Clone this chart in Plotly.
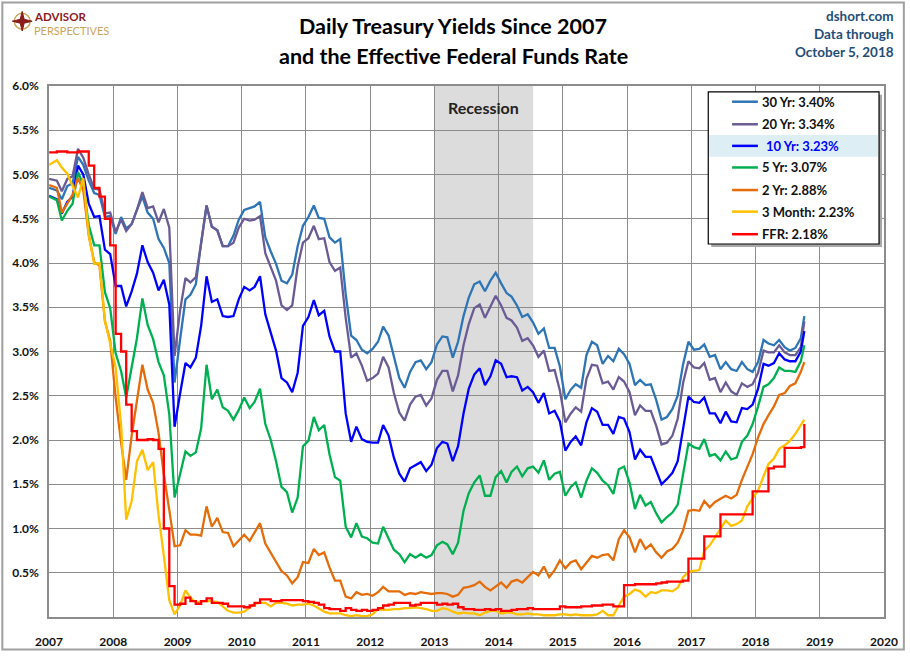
import plotly.graph_objects as go

# ---------------- data (monthly readings, Jan 2007 .. Oct 5 2018) ----------------
months = [f"{y}-{m:02d}-15" for y in range(2007, 2019) for m in range(1, 13)][:142]
months[0] = "2007-01-02"
months[-1] = "2018-10-05"

y30 = [4.85, 4.82, 4.72, 4.87, 4.90, 5.20, 5.11, 4.93, 4.79, 4.77, 4.52, 4.53,
       4.33, 4.52, 4.39, 4.44, 4.60, 4.75, 4.57, 4.50, 4.27, 4.17, 4.00, 2.65,
       3.13, 3.59, 3.64, 3.76, 4.23, 4.65, 4.41, 4.37, 4.19, 4.19, 4.31, 4.49,
       4.60, 4.62, 4.64, 4.69, 4.29, 4.13, 3.99, 3.80, 3.77, 3.87, 4.19, 4.42,
       4.52, 4.65, 4.51, 4.50, 4.29, 4.23, 4.27, 3.65, 3.18, 3.13, 3.02, 2.98,
       3.03, 3.11, 3.28, 3.18, 2.93, 2.70, 2.59, 2.77, 2.88, 2.90, 2.80, 2.88,
       3.08, 3.17, 3.16, 2.93, 3.11, 3.40, 3.61, 3.76, 3.79, 3.68, 3.80, 3.89,
       3.77, 3.66, 3.62, 3.52, 3.39, 3.42, 3.33, 3.20, 3.26, 3.04, 3.04, 2.83,
       2.46, 2.57, 2.63, 2.59, 2.96, 3.11, 3.07, 2.86, 2.95, 2.89, 3.03, 2.97,
       2.86, 2.62, 2.68, 2.62, 2.63, 2.45, 2.23, 2.26, 2.35, 2.50, 2.86, 3.11,
       3.02, 3.03, 3.08, 2.94, 2.96, 2.80, 2.88, 2.80, 2.78, 2.88, 2.80, 2.77,
       2.88, 3.13, 3.09, 3.07, 3.13, 3.05, 3.01, 3.04, 3.15, 3.40]

y20 = [4.95, 4.93, 4.81, 4.95, 4.98, 5.29, 5.19, 5.00, 4.84, 4.83, 4.56, 4.57,
       4.35, 4.49, 4.36, 4.44, 4.60, 4.80, 4.62, 4.64, 4.46, 4.61, 4.40, 2.95,
       3.46, 3.83, 3.78, 3.84, 4.22, 4.65, 4.41, 4.37, 4.19, 4.19, 4.23, 4.40,
       4.50, 4.48, 4.49, 4.53, 4.11, 3.95, 3.80, 3.52, 3.47, 3.52, 3.96, 4.23,
       4.28, 4.42, 4.27, 4.28, 4.01, 3.91, 3.95, 3.38, 2.93, 2.98, 2.84, 2.67,
       2.70, 2.75, 2.94, 2.82, 2.53, 2.31, 2.22, 2.40, 2.49, 2.51, 2.39, 2.47,
       2.68, 2.78, 2.78, 2.55, 2.73, 3.07, 3.31, 3.49, 3.53, 3.38, 3.50, 3.63,
       3.52, 3.38, 3.35, 3.27, 3.12, 3.15, 3.07, 2.94, 3.01, 2.78, 2.79, 2.56,
       2.20, 2.30, 2.37, 2.32, 2.69, 2.85, 2.84, 2.64, 2.66, 2.57, 2.71, 2.66,
       2.54, 2.28, 2.39, 2.33, 2.33, 2.16, 1.95, 1.97, 2.05, 2.24, 2.65, 2.89,
       2.82, 2.81, 2.87, 2.68, 2.70, 2.54, 2.65, 2.55, 2.51, 2.64, 2.60, 2.63,
       2.76, 3.01, 2.99, 2.99, 3.07, 2.99, 2.96, 2.96, 3.05, 3.34]

y10 = [4.76, 4.72, 4.56, 4.69, 4.75, 5.10, 5.00, 4.67, 4.52, 4.53, 4.15, 4.10,
       3.74, 3.74, 3.51, 3.68, 3.88, 4.20, 4.01, 3.89, 3.69, 3.81, 3.53, 2.15,
       2.52, 2.87, 2.82, 2.93, 3.29, 3.85, 3.56, 3.59, 3.40, 3.39, 3.40, 3.59,
       3.73, 3.69, 3.73, 3.85, 3.42, 3.20, 3.01, 2.70, 2.65, 2.54, 2.76, 3.29,
       3.39, 3.58, 3.41, 3.46, 3.17, 3.00, 3.00, 2.30, 1.98, 2.15, 2.01, 1.98,
       1.97, 1.97, 2.17, 2.05, 1.80, 1.62, 1.53, 1.68, 1.72, 1.75, 1.65, 1.72,
       1.91, 1.98, 1.96, 1.76, 1.93, 2.30, 2.58, 2.74, 2.81, 2.62, 2.72, 2.90,
       2.86, 2.71, 2.72, 2.71, 2.56, 2.60, 2.54, 2.42, 2.53, 2.30, 2.33, 2.21,
       1.88, 1.98, 2.04, 1.94, 2.20, 2.36, 2.32, 2.17, 2.17, 2.07, 2.26, 2.24,
       2.09, 1.78, 1.89, 1.81, 1.81, 1.64, 1.50, 1.56, 1.63, 1.76, 2.14, 2.49,
       2.43, 2.42, 2.48, 2.30, 2.30, 2.19, 2.32, 2.21, 2.20, 2.36, 2.35, 2.40,
       2.58, 2.86, 2.84, 2.87, 2.98, 2.91, 2.89, 2.89, 3.00, 3.23]

y5 = [4.75, 4.71, 4.48, 4.59, 4.67, 5.03, 4.88, 4.43, 4.20, 4.20, 3.67, 3.49,
      2.98, 2.78, 2.48, 2.84, 3.15, 3.60, 3.30, 3.14, 2.88, 2.73, 2.29, 1.35,
      1.60, 1.87, 1.82, 1.86, 2.13, 2.85, 2.46, 2.57, 2.37, 2.33, 2.23, 2.34,
      2.48, 2.36, 2.43, 2.58, 2.18, 2.00, 1.76, 1.47, 1.41, 1.18, 1.35, 1.93,
      1.99, 2.26, 2.11, 2.17, 1.84, 1.58, 1.54, 1.02, 0.90, 1.06, 0.91, 0.89,
      0.84, 0.83, 1.02, 0.89, 0.76, 0.71, 0.62, 0.71, 0.67, 0.71, 0.67, 0.70,
      0.81, 0.85, 0.82, 0.71, 0.84, 1.20, 1.40, 1.52, 1.60, 1.37, 1.37, 1.58,
      1.65, 1.52, 1.64, 1.70, 1.59, 1.68, 1.70, 1.63, 1.77, 1.55, 1.62, 1.64,
      1.37, 1.47, 1.52, 1.35, 1.54, 1.68, 1.63, 1.54, 1.49, 1.39, 1.67, 1.70,
      1.52, 1.22, 1.38, 1.26, 1.30, 1.17, 1.07, 1.13, 1.18, 1.27, 1.60, 1.96,
      1.92, 1.90, 2.01, 1.82, 1.84, 1.77, 1.87, 1.78, 1.80, 1.98, 2.05, 2.18,
      2.38, 2.60, 2.63, 2.70, 2.82, 2.78, 2.78, 2.77, 2.89, 3.07]

y2 = [4.88, 4.85, 4.57, 4.67, 4.77, 4.96, 4.82, 4.31, 4.01, 3.97, 3.34, 3.12,
      2.48, 1.97, 1.55, 2.05, 2.45, 2.85, 2.57, 2.42, 2.08, 1.61, 1.21, 0.80,
      0.81, 0.98, 0.93, 0.93, 0.92, 1.25, 1.02, 1.12, 0.96, 0.95, 0.80, 0.87,
      0.93, 0.86, 0.96, 1.06, 0.83, 0.72, 0.62, 0.52, 0.47, 0.38, 0.45, 0.62,
      0.61, 0.77, 0.70, 0.73, 0.56, 0.41, 0.41, 0.23, 0.21, 0.28, 0.25, 0.26,
      0.24, 0.28, 0.34, 0.29, 0.29, 0.29, 0.25, 0.27, 0.26, 0.28, 0.27, 0.26,
      0.27, 0.27, 0.26, 0.23, 0.25, 0.33, 0.34, 0.36, 0.40, 0.34, 0.30, 0.34,
      0.39, 0.33, 0.40, 0.42, 0.39, 0.45, 0.51, 0.47, 0.57, 0.45, 0.53, 0.64,
      0.55, 0.62, 0.64, 0.54, 0.61, 0.69, 0.67, 0.70, 0.71, 0.64, 0.88, 0.98,
      0.90, 0.73, 0.88, 0.77, 0.82, 0.73, 0.67, 0.74, 0.77, 0.84, 0.98, 1.20,
      1.21, 1.20, 1.31, 1.24, 1.30, 1.34, 1.37, 1.34, 1.38, 1.55, 1.70, 1.84,
      2.03, 2.18, 2.28, 2.38, 2.51, 2.53, 2.61, 2.64, 2.77, 2.88]

m3 = [5.11, 5.16, 5.08, 5.01, 4.87, 4.74, 4.96, 4.32, 3.99, 4.00, 3.35, 3.07,
      2.82, 2.17, 1.10, 1.31, 1.76, 1.89, 1.66, 1.75, 1.15, 0.69, 0.19, 0.03,
      0.13, 0.30, 0.22, 0.16, 0.18, 0.18, 0.18, 0.17, 0.12, 0.07, 0.05, 0.05,
      0.06, 0.11, 0.15, 0.16, 0.16, 0.12, 0.16, 0.16, 0.15, 0.13, 0.14, 0.14,
      0.15, 0.13, 0.10, 0.06, 0.04, 0.04, 0.04, 0.02, 0.01, 0.02, 0.01, 0.01,
      0.03, 0.09, 0.08, 0.08, 0.09, 0.09, 0.10, 0.10, 0.11, 0.10, 0.09, 0.07,
      0.07, 0.10, 0.09, 0.06, 0.04, 0.05, 0.04, 0.04, 0.02, 0.05, 0.07, 0.07,
      0.04, 0.05, 0.05, 0.03, 0.03, 0.04, 0.03, 0.03, 0.02, 0.02, 0.02, 0.03,
      0.03, 0.02, 0.03, 0.02, 0.02, 0.02, 0.03, 0.07, 0.02, 0.02, 0.13, 0.23,
      0.26, 0.31, 0.29, 0.23, 0.28, 0.27, 0.30, 0.30, 0.29, 0.33, 0.45, 0.51,
      0.52, 0.53, 0.75, 0.81, 0.90, 1.00, 1.09, 1.03, 1.05, 1.09, 1.25, 1.34,
      1.43, 1.59, 1.73, 1.79, 1.90, 1.94, 1.99, 2.07, 2.17, 2.23]

ffr = [5.25, 5.26, 5.26, 5.25, 5.25, 5.26, 5.26, 5.10, 4.85, 4.75, 4.50, 4.20,
       3.20, 3.00, 2.40, 2.10, 2.00, 2.00, 2.01, 2.00, 1.90, 1.00, 0.35, 0.14,
       0.15, 0.22, 0.18, 0.15, 0.18, 0.21, 0.16, 0.16, 0.15, 0.12, 0.12, 0.12,
       0.11, 0.13, 0.16, 0.20, 0.20, 0.18, 0.18, 0.19, 0.19, 0.19, 0.19, 0.18,
       0.17, 0.16, 0.14, 0.10, 0.09, 0.09, 0.07, 0.10, 0.08, 0.07, 0.08, 0.07,
       0.08, 0.10, 0.13, 0.14, 0.16, 0.16, 0.16, 0.13, 0.14, 0.16, 0.16, 0.16,
       0.14, 0.15, 0.14, 0.15, 0.11, 0.09, 0.09, 0.08, 0.08, 0.09, 0.08, 0.09,
       0.07, 0.07, 0.08, 0.09, 0.09, 0.10, 0.09, 0.09, 0.09, 0.09, 0.09, 0.12,
       0.11, 0.11, 0.11, 0.12, 0.12, 0.13, 0.13, 0.14, 0.14, 0.12, 0.12, 0.36,
       0.36, 0.37, 0.37, 0.37, 0.37, 0.38, 0.39, 0.40, 0.40, 0.40, 0.41, 0.66,
       0.66, 0.66, 0.91, 0.91, 0.91, 1.16, 1.16, 1.16, 1.16, 1.16, 1.16, 1.42,
       1.42, 1.42, 1.68, 1.70, 1.70, 1.91, 1.91, 1.91, 1.92, 2.18]

names = ["30 Yr", "20 Yr", "10 Yr", "5 Yr", "2 Yr", "3 Month", "FFR"]
series = [y30, y20, y10, y5, y2, m3, ffr]
colors = ["#2e75b6", "#6b5b95", "#0000ff", "#00b050", "#e46c0a", "#ffc000", "#ff0000"]

recession = ["2013-01-01", "2014-07-16"]
y_ticks = [0.5, 1.0, 1.5, 2.0, 2.5, 3.0, 3.5, 4.0, 4.5, 5.0, 5.5, 6.0]

# ---------------- layout helpers (pixel -> paper) ----------------
W, H = 910, 661
L, R, T, B = 48, 889, 86, 627
PW, PH = R - L, B - T


def px(x):
    return (x - L) / PW


def py(y):
    return (B - y) / PH


FONT = "Lato, 'Open Sans', sans-serif"

fig = go.Figure()
for name, vals, col in zip(names, series, colors):
    fig.add_trace(go.Scatter(
        x=months, y=vals, mode="lines", name=name,
        line=dict(color=col, width=2.3, shape="hv" if name == "FFR" else "linear"),
        showlegend=False, hoverinfo="skip"))

shapes = []
annotations = []

# recession shading
shapes.append(dict(type="rect", xref="x", yref="paper", x0=recession[0], x1=recession[1],
                   y0=0, y1=1, fillcolor="#dcdcdc", line=dict(width=0), layer="below"))
annotations.append(dict(text="<b>Recession</b>", xref="x", yref="paper",
                        x="2013-10-08", y=py(108), showarrow=False,
                        font=dict(family=FONT, size=16, color="#222"),
                        xanchor="center", yanchor="middle"))

# outer frame
shapes.append(dict(type="rect", xref="paper", yref="paper", x0=px(1), x1=px(909),
                   y0=py(660), y1=py(1), line=dict(color="#a0a0a0", width=2),
                   fillcolor="rgba(0,0,0,0)", layer="above"))

# title
annotations.append(dict(text="<b>Daily Treasury Yields Since 2007</b>", xref="paper", yref="paper",
                        x=px(455), y=py(25), showarrow=False, xanchor="center", yanchor="middle",
                        font=dict(family=FONT, size=21.5, color="#000")))
annotations.append(dict(text="<b>and the Effective Federal Funds Rate</b>", xref="paper", yref="paper",
                        x=px(455), y=py(55), showarrow=False, xanchor="center", yanchor="middle",
                        font=dict(family=FONT, size=21.5, color="#000")))

# source text
for txt, yy in [("dshort.com", 15), ("Data through", 33), ("October 5, 2018", 51)]:
    annotations.append(dict(text=f"<b>{txt}</b>", xref="paper", yref="paper", x=px(901), y=py(yy),
                            showarrow=False, xanchor="right", yanchor="middle",
                            font=dict(family=FONT, size=13.5, color="#1f4e79")))

# logo
shapes.append(dict(type="circle", xref="paper", yref="paper", x0=px(13), x1=px(29),
                   y0=py(28), y1=py(12), line=dict(color="#c9a55a", width=1.5),
                   fillcolor="rgba(0,0,0,0)", layer="above"))
cx, cy = 21, 20
star_pts = [(cx, cy - 10), (cx + 2, cy - 2), (cx + 10, cy), (cx + 2, cy + 2),
            (cx, cy + 10), (cx - 2, cy + 2), (cx - 10, cy), (cx - 2, cy - 2)]
path = "M " + " L ".join(f"{px(a):.5f},{py(b):.5f}" for a, b in star_pts) + " Z"
shapes.append(dict(type="path", xref="paper", yref="paper", path=path,
                   fillcolor="#8b1a1a", line=dict(color="#8b1a1a", width=1), layer="above"))
annotations.append(dict(text="<b>ADVISOR</b>", xref="paper", yref="paper", x=px(32), y=py(15),
                        showarrow=False, xanchor="left", yanchor="middle", borderpad=0,
                        font=dict(family=FONT, size=11.5, color="#8b1a1a")))
annotations.append(dict(text="PERSPECTIVES", xref="paper", yref="paper", x=px(32), y=py(29),
                        showarrow=False, xanchor="left", yanchor="middle", borderpad=0,
                        font=dict(family=FONT, size=11, color="#c9a55a")))

# custom legend
shapes.append(dict(type="rect", xref="paper", yref="paper", x0=px(715), x1=px(887),
                   y0=py(250), y1=py(95), fillcolor="#a8a8a8", line=dict(width=0), layer="above"))
shapes.append(dict(type="rect", xref="paper", yref="paper", x0=px(712), x1=px(884),
                   y0=py(247), y1=py(92), fillcolor="#ffffff", line=dict(color="#000", width=1.2),
                   layer="above"))
shapes.append(dict(type="rect", xref="paper", yref="paper", x0=px(713), x1=px(883),
                   y0=py(158), y1=py(136), fillcolor="#ddeef5", line=dict(width=0), layer="above"))
rows = [102, 125, 147, 169, 192, 214, 237]
for name, vals, col, ry in zip(names, series, colors, rows):
    shapes.append(dict(type="line", xref="paper", yref="paper", x0=px(736), x1=px(762),
                       y0=py(ry), y1=py(ry), line=dict(color=col, width=2.5), layer="above"))
    is10 = name == "10 Yr"
    annotations.append(dict(text=f"<b>{name}: {vals[-1]:.2f}%</b>", xref="paper", yref="paper",
                            x=px(768 if is10 else 764), y=py(ry), showarrow=False,
                            xanchor="left", yanchor="middle",
                            font=dict(family=FONT, size=13, color="#0000ff" if is10 else "#111")))

fig.update_layout(
    width=W, height=H, margin=dict(l=L, r=W - R, t=T, b=H - B),
    paper_bgcolor="#ffffff", plot_bgcolor="#ffffff",
    shapes=shapes, annotations=annotations, showlegend=False,
    xaxis=dict(type="date", range=["2007-01-01", "2020-01-01"], dtick="M12", tick0="2007-01-01",
               tickformat="%Y", showgrid=True, gridcolor="#8c8c8c", gridwidth=1,
               showline=True, linecolor="#8c8c8c", linewidth=1.5, mirror=True,
               ticks="", ticklabelstandoff=13,
               tickfont=dict(family=FONT, size=12, color="#111", weight="bold"),
               zeroline=False),
    yaxis=dict(range=[0, 6], tickvals=y_ticks, ticktext=[f"{v:.1f}%" for v in y_ticks],
               showgrid=True, gridcolor="#8c8c8c", gridwidth=1,
               showline=True, linecolor="#8c8c8c", linewidth=1.5, mirror=True,
               ticks="", ticklabelstandoff=6,
               tickfont=dict(family=FONT, size=12, color="#111", weight="bold"),
               zeroline=False),
)

fig.write_html("out.html")
